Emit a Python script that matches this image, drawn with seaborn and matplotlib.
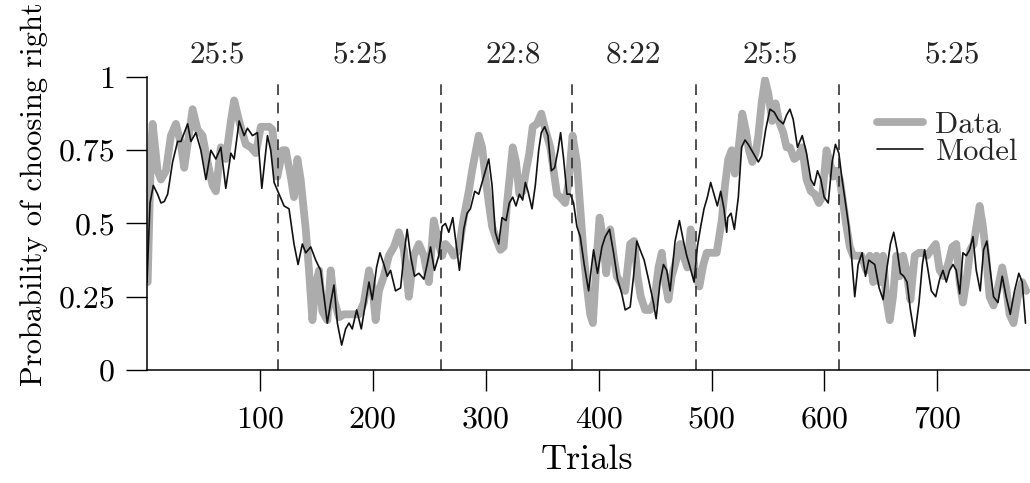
import matplotlib
matplotlib.use('Agg')
import matplotlib.pyplot as plt
import seaborn as sns

# ---------------- data ----------------
block_bounds = [116, 260, 376, 486, 613]
block_labels = ['25:5', '5:25', '22:8', '8:22', '25:5', '5:25']
block_label_x = [62, 189, 324, 431, 552, 713]

x_ticks = [100, 200, 300, 400, 500, 600, 700]
y_ticks = [0, 0.25, 0.5, 0.75, 1]
y_tick_labels = ['0', '0.25', '0.5', '0.75', '1']

data_trials = [
    0.6, 3.5, 5, 9.4, 12.4, 16.8, 21.2, 25.6, 30.1, 33, 37.4, 40.4, 44.8, 49.2, 53.6, 58.1, 61, 65.4, 69.8,
    74.3, 77.2, 81.6, 87.5, 91.9, 96.4, 100.8, 108.2, 111.1, 115.5, 120, 122.9,
    127.3, 130.2, 133.2, 136.1, 140.6, 143.5, 146.5, 149.4, 152.4, 155.3, 159.7, 162.7, 165.6, 170, 174.5,
    178.9, 183.3, 187.7, 192.1, 196.6, 199.5, 202.5, 205.4, 209.8, 214.2, 218.7, 223.1, 227.5, 231.9, 236.3,
    240.8, 245.2, 249.6, 254,
    258.4, 261.4, 264.3, 268.8, 271.7, 276.1, 280.5, 285, 287.9, 290.9, 293.8, 296.8, 299.7, 302.7, 305.6,
    310, 313, 315.9, 318.9, 321.8, 323.9, 326.8, 329.8, 332.7, 335.7, 338.6, 341.6, 345.4, 349.2, 352.8,
    357.2, 360.1, 363.1, 366, 370.4, 373.4, 376.9, 380.7,
    383.7, 386.6, 389.6, 392.5, 394.9, 398.4, 400.8, 403.7, 406.7, 410.2, 413.2, 416.1, 419.1, 423.5, 427.9,
    431.4, 434.4, 437.3, 441.2, 445.6, 449.1, 453, 455.9, 458.8, 461.8, 464.7, 467.7, 472.1, 475.1, 478.6,
    481.5, 485.4, 489.2, 492.7, 495.7, 500.1, 504.5, 509, 511.9,
    514.8, 517.8, 520.7, 524.3, 527.2, 530.2, 533.1, 536.1, 539, 541.4, 544.3, 547.3, 550.2, 553.7, 556.7,
    559.6, 563.5, 566.4, 569.4, 573.2, 576.7, 580.3, 584.1, 587.9, 591.5, 595, 597.9, 601.8, 604.7, 607.7,
    610.6, 613.6, 616.5, 619.5, 622.4, 625.4, 629.8, 632.7, 637.1,
    640.1, 643.1, 646, 648.9, 651.9, 654.8, 657.8, 660.7, 663.7, 666.6, 669.6, 672.5, 676.1, 679.9, 683.7,
    687.3, 690.8, 694.6, 698.5, 702, 705.5, 709.4, 713.2, 716.7, 719.7, 722.6, 726.2, 729.1, 732.1, 735,
    737.4, 740.3, 743.2, 746.2, 749.7, 753.6, 757.4, 760.9, 763.9, 767.4, 771.2, 775.1, 778.6,
]
data_values = [
    0.30, 0.74, 0.84, 0.68, 0.65, 0.68, 0.80, 0.84, 0.77, 0.69, 0.81, 0.89, 0.82, 0.80, 0.71, 0.63, 0.61, 0.76, 0.72,
    0.85, 0.92, 0.85, 0.77, 0.76, 0.74, 0.83, 0.83, 0.82, 0.66, 0.75, 0.75,
    0.66, 0.59, 0.72, 0.65, 0.48, 0.34, 0.17, 0.29, 0.34, 0.20, 0.17, 0.34, 0.24, 0.18, 0.19,
    0.19, 0.19, 0.19, 0.23, 0.34, 0.29, 0.17, 0.27, 0.32, 0.39, 0.42, 0.47, 0.41, 0.25, 0.39,
    0.43, 0.39, 0.30, 0.51,
    0.43, 0.39, 0.43, 0.41, 0.39, 0.41, 0.52, 0.61, 0.68, 0.74, 0.80, 0.76, 0.66, 0.57, 0.49,
    0.44, 0.41, 0.42, 0.57, 0.68, 0.76, 0.71, 0.60, 0.61, 0.68, 0.74, 0.83, 0.84, 0.875, 0.82,
    0.76, 0.68, 0.60, 0.59, 0.57, 0.64, 0.80, 0.71,
    0.55, 0.40, 0.285, 0.19, 0.16, 0.39, 0.52, 0.455, 0.33, 0.48, 0.39, 0.32, 0.30, 0.27, 0.43,
    0.44, 0.32, 0.25, 0.205, 0.205, 0.23, 0.35, 0.40, 0.30, 0.24, 0.32, 0.36, 0.43, 0.39, 0.35,
    0.48, 0.33, 0.285, 0.36, 0.40, 0.40, 0.40, 0.51, 0.63,
    0.72, 0.75, 0.67, 0.77, 0.875, 0.82, 0.75, 0.71, 0.74, 0.80, 0.91, 0.99, 0.945, 0.85, 0.91,
    0.85, 0.81, 0.76, 0.76, 0.72, 0.73, 0.76, 0.65, 0.61, 0.60, 0.57, 0.59, 0.75, 0.71, 0.66,
    0.68, 0.65, 0.57, 0.49, 0.42, 0.39, 0.39, 0.39, 0.34,
    0.39, 0.30, 0.39, 0.30, 0.39, 0.24, 0.17, 0.25, 0.39, 0.32, 0.39, 0.34, 0.24, 0.39, 0.40,
    0.40, 0.39, 0.41, 0.43, 0.34, 0.32, 0.36, 0.42, 0.43, 0.30, 0.23, 0.32, 0.41, 0.43, 0.50,
    0.56, 0.49, 0.39, 0.25, 0.22, 0.28, 0.35, 0.28, 0.19, 0.16, 0.25, 0.30, 0.27,
]

model_trials = [
    0, 0.6, 2.7, 5.6, 9.4, 12.4, 15.3, 18.3, 22.7, 27.1, 30.1, 33, 36, 38.9, 43.3, 47.7, 52.2, 56.6, 61, 65.4,
    69.8, 74.3, 77.2, 81.6, 86, 89, 93.4, 97.8, 101.7, 106.7, 109.6, 112.6, 117, 121.4, 125.8,
    130.2, 133.8, 137.6, 140.6, 145, 149.4, 153.8, 156.8, 159.7, 162.7, 165.6, 168.6, 172.4, 175.9, 178.9,
    181.8, 185.7, 189.8, 193.6, 196.6, 199.5, 203.3, 206.3, 209.8, 212.8, 215.7, 220.1, 224.6, 227.5, 230.4,
    233.4, 236.9, 240.8, 245.2, 248.1, 251.1, 254.6,
    258.4, 261.4, 264.3, 267.3, 270.8, 273.8, 276.7, 280.5, 283.5, 286.4, 290.3, 293.8, 296.8, 299.7, 302.7,
    305.6, 308.5, 311.5, 314.4, 318, 320.9, 323.9, 326.8, 329.8, 332.7, 335.1, 337.4, 341, 343.9, 346.9,
    349.2, 352.2, 355.1, 358.1, 361, 364, 366.3, 369, 371.9, 374.9, 377.8, 380.7,
    383.7, 387.2, 391.1, 395.5, 399, 402.9, 405.8, 409.6, 413.2, 416.7, 420.5, 423.5, 427.9, 430.9, 433.8,
    436.7, 440.3, 444.1, 448, 450.9, 454.4, 457.4, 460.3, 463.3, 467.7, 471.5, 475.1, 478, 481, 484.5,
    487.4, 490.4, 493.3, 496.3, 499.2, 502.2, 505.1, 508.1, 511, 513.4,
    514.3, 517.2, 520.2, 523.7, 526.6, 529.6, 532.5, 535.5, 538.4, 541.4, 544.3, 547.9, 551.7, 555.5, 559.1,
    563.5, 566.4, 569.4, 572.3, 576.1, 580.3, 584.1, 587.9, 590.9, 593.8, 596.8, 599.7, 603.3, 606.8, 609.7,
    612.7, 615.6, 618.6, 621.5, 623.9, 626.8, 629.8, 633.3, 636.3, 639.2,
    644.5, 648.4, 651.9, 655.4, 658.4, 661.3, 664.3, 667.2, 670.2, 673.1, 676.1, 679.9, 683.7, 686.7, 688.7,
    691.7, 694.6, 698.5, 702, 704.9, 707.9, 710.8, 713.8, 716.7, 719.7, 722.6, 725.6, 728.5, 731.5, 734.4,
    737.9, 740.9, 743.8, 746.8, 749.7, 753.6, 757.4, 760.9, 764.5, 768.3, 772.1, 775.1, 778,
]
model_values = [
    0.30, 0.36, 0.57, 0.63, 0.60, 0.57, 0.575, 0.60, 0.71, 0.78, 0.78, 0.81, 0.84, 0.78, 0.81, 0.75, 0.65, 0.75, 0.72, 0.76,
    0.62, 0.74, 0.72, 0.85, 0.80, 0.825, 0.80, 0.81, 0.62, 0.80, 0.75, 0.64, 0.60, 0.56, 0.55,
    0.43, 0.36, 0.43, 0.40, 0.42, 0.375, 0.34, 0.25, 0.16, 0.23, 0.29, 0.16, 0.085, 0.14, 0.16,
    0.14, 0.205, 0.14, 0.23, 0.30, 0.24, 0.35, 0.40, 0.36, 0.32, 0.34, 0.27, 0.28, 0.39, 0.48,
    0.39, 0.32, 0.33, 0.31, 0.36, 0.42, 0.34,
    0.39, 0.49, 0.50, 0.47, 0.52, 0.43, 0.34, 0.48, 0.535, 0.55, 0.61, 0.60, 0.64, 0.68, 0.72,
    0.63, 0.47, 0.43, 0.52, 0.51, 0.57, 0.59, 0.56, 0.60, 0.58, 0.64, 0.61, 0.55, 0.63, 0.75,
    0.81, 0.83, 0.80, 0.68, 0.69, 0.75, 0.81, 0.72, 0.60, 0.60, 0.57, 0.49,
    0.455, 0.36, 0.27, 0.41, 0.33, 0.42, 0.455, 0.48, 0.40, 0.31, 0.26, 0.205, 0.215, 0.32, 0.44,
    0.41, 0.375, 0.31, 0.24, 0.175, 0.30, 0.36, 0.34, 0.27, 0.44, 0.51, 0.44, 0.39, 0.35, 0.30,
    0.42, 0.49, 0.55, 0.59, 0.64, 0.60, 0.56, 0.61, 0.55, 0.47,
    0.52, 0.535, 0.48, 0.59, 0.76, 0.785, 0.77, 0.75, 0.73, 0.71, 0.73, 0.82, 0.89, 0.88, 0.855,
    0.84, 0.87, 0.89, 0.855, 0.76, 0.80, 0.74, 0.65, 0.63, 0.68, 0.65, 0.59, 0.57, 0.71, 0.77,
    0.74, 0.65, 0.57, 0.49, 0.39, 0.25, 0.36, 0.40, 0.32, 0.375,
    0.36, 0.28, 0.24, 0.35, 0.43, 0.47, 0.41, 0.33, 0.32, 0.30, 0.205, 0.115, 0.23, 0.36, 0.41,
    0.34, 0.27, 0.25, 0.31, 0.34, 0.30, 0.34, 0.36, 0.34, 0.26, 0.40, 0.39, 0.41, 0.455, 0.34,
    0.27, 0.41, 0.44, 0.34, 0.25, 0.23, 0.32, 0.25, 0.19, 0.27, 0.33, 0.30, 0.16,
]

# ---------------- style ----------------
sns.set_theme(style='white')
plt.rcParams['font.family'] = ['cmr10', 'DejaVu Serif']
plt.rcParams['axes.formatter.use_mathtext'] = True
plt.rcParams['axes.unicode_minus'] = False

fig = plt.figure(figsize=(10.30, 4.83), dpi=100)
ax = fig.add_axes([0.1427, 0.234, 0.8573, 0.6066])

sns.lineplot(x=data_trials, y=data_values, ax=ax, color='#acacac', lw=5.6,
             sort=False, estimator=None, label='Data')
sns.lineplot(x=model_trials, y=model_values, ax=ax, color='#111111', lw=1.2,
             sort=False, estimator=None, label='Model')

ax.vlines(block_bounds, 0, 1, colors='#222222', linestyles=(0, (7, 5)), lw=1.1)

for lx, lab in zip(block_label_x, block_labels):
    ax.text(lx, 1.048, lab, ha='center', va='baseline', fontsize=22.5, clip_on=False)

ax.set_xlim(0, 782)
ax.set_ylim(0, 1)
ax.set_xticks(x_ticks)
ax.set_xticklabels([str(t) for t in x_ticks])
ax.set_yticks(y_ticks)
ax.set_yticklabels(y_tick_labels)
ax.tick_params(direction='out', length=15, width=1.0, labelsize=23,
               color='black', labelcolor='black', left=True, bottom=True)
ax.tick_params(axis='x', pad=11)
ax.tick_params(axis='y', pad=8)

sns.despine(ax=ax)
for s in ['left', 'bottom']:
    ax.spines[s].set_color('black')
    ax.spines[s].set_linewidth(1.1)

ax.set_xlabel('Trials', fontsize=26, color='black')
ax.xaxis.set_label_coords(0.498, -0.255)
ax.set_ylabel('Probability of choosing right', fontsize=22, color='black')
ax.yaxis.set_label_coords(-0.112, 0.60)

ax.legend(loc='upper right', bbox_to_anchor=(1.0, 0.925), frameon=False, fontsize=22,
          handlelength=1.5, handletextpad=0.4, labelspacing=0.0, borderaxespad=0)

fig.savefig('out.png', dpi=100)
